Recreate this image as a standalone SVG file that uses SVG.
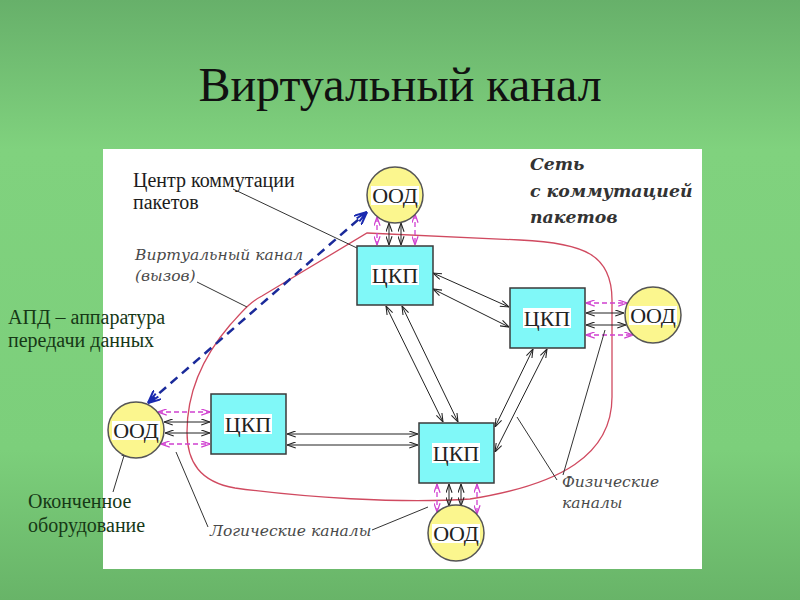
<svg xmlns="http://www.w3.org/2000/svg" width="800" height="600" viewBox="0 0 800 600">
<defs>
<linearGradient id="bg" x1="0" y1="0" x2="0" y2="1">
<stop offset="0" stop-color="#67b06a"/>
<stop offset="0.25" stop-color="#80d27e"/>
<stop offset="0.75" stop-color="#7ccf7b"/>
<stop offset="1" stop-color="#68b468"/>
</linearGradient>
<marker id="ak" viewBox="0 0 10 8" refX="10" refY="4" markerWidth="9" markerHeight="7" markerUnits="userSpaceOnUse" orient="auto-start-reverse">
<path d="M0,0.5 L10,4 L0,7.5" fill="none" stroke="#222" stroke-width="1.2"/>
</marker>
<marker id="am" viewBox="0 0 10 8" refX="10" refY="4" markerWidth="9" markerHeight="7" markerUnits="userSpaceOnUse" orient="auto-start-reverse">
<path d="M0,0.5 L10,4 L0,7.5" fill="none" stroke="#d040d0" stroke-width="1.4"/>
</marker>
<marker id="ab" viewBox="0 0 14 12" refX="13" refY="6" markerWidth="14" markerHeight="12" markerUnits="userSpaceOnUse" orient="auto-start-reverse">
<path d="M0,0 L13,6 M1,4 L13,6 M1,8 L13,6 M0,12 L13,6" fill="none" stroke="#1a2ab0" stroke-width="2"/>
</marker>
<marker id="ap" viewBox="0 0 10 8" refX="10" refY="4" markerWidth="8" markerHeight="6" markerUnits="userSpaceOnUse" orient="auto">
<path d="M0,0.5 L10,4 L0,7.5 Z" fill="#222"/>
</marker>
</defs>
<style>
.box{fill:#80f8f8;stroke:#3a3a3a;stroke-width:1.5}
.ood{fill:#fbf68e;stroke:#555;stroke-width:1.5}
.hl{fill:#ffffff}
.nt{font-family:"Liberation Serif","Times New Roman",serif;font-size:22px;fill:#222;text-anchor:middle}
.lk{stroke:#222;stroke-width:1;fill:none;marker-start:url(#ak);marker-end:url(#ak)}
.lm{stroke:#d040d0;stroke-width:1.3;fill:none;stroke-dasharray:5 3;marker-start:url(#am);marker-end:url(#am)}
.ptr{stroke:#333;stroke-width:1;fill:none}
.lab{font-family:"Liberation Serif","Times New Roman",serif;font-size:20px;fill:#1c1c1c}
.labg{font-family:"Liberation Serif","Times New Roman",serif;font-size:20px;fill:#163816}
.it{font-family:"DejaVu Serif",serif;font-style:italic;font-size:15.5px;fill:#4a4a4a}
.net{font-family:"DejaVu Serif",serif;font-style:italic;font-weight:bold;font-size:17.3px;fill:#333}
</style>
<rect x="0" y="0" width="800" height="600" fill="url(#bg)"/>
<rect x="103" y="149" width="599" height="420" fill="#ffffff"/>
<text x="400" y="101" text-anchor="middle" font-family="Liberation Serif, Times New Roman, serif" font-size="48" fill="#111">Виртуальный канал</text>

<g id="network-boundary">
<path d="M367,233 L520,240 C585,243 612,255 612,300 L612,397 C612,455 560,485 470,499 C400,504 300,497 235,488 C200,482 187,462 187,432 C187,395 200,360 230,325 C242,312 250,302 262,296 Z" fill="none" stroke="#d04a60" stroke-width="1.3"/>
</g>

<g id="connectors">
<line class="lk" x1="433" y1="273" x2="509" y2="307"/>
<line class="lk" x1="433" y1="289" x2="509" y2="327"/>
<line class="lk" x1="386" y1="306" x2="443" y2="422"/>
<line class="lk" x1="402" y1="306" x2="458" y2="422"/>
<line class="lk" x1="533" y1="349" x2="495" y2="427"/>
<line class="lk" x1="547" y1="349" x2="495" y2="452"/>
<line class="lk" x1="287" y1="434" x2="418" y2="434"/>
<line class="lk" x1="287" y1="445" x2="418" y2="445"/>

<line class="lk" x1="389" y1="223" x2="389" y2="245"/>
<line class="lk" x1="401" y1="223" x2="401" y2="245"/>
<line class="lm" x1="377" y1="217" x2="377" y2="245"/>
<line class="lm" x1="415" y1="214" x2="415" y2="245"/>

<line class="lk" x1="586" y1="313" x2="624" y2="313"/>
<line class="lk" x1="586" y1="325" x2="626" y2="325"/>
<line class="lm" x1="586" y1="303" x2="627" y2="303"/>
<line class="lm" x1="586" y1="335" x2="633" y2="335"/>

<line class="lk" x1="164" y1="422" x2="210" y2="422"/>
<line class="lk" x1="165" y1="433" x2="210" y2="433"/>
<line class="lm" x1="158" y1="412" x2="210" y2="412"/>
<line class="lm" x1="161" y1="444" x2="210" y2="444"/>

<line class="lk" x1="449" y1="484" x2="449" y2="506"/>
<line class="lk" x1="461" y1="484" x2="461" y2="506"/>
<line class="lm" x1="437" y1="484" x2="437" y2="512"/>
<line class="lm" x1="477" y1="484" x2="477" y2="514"/>

<line x1="148" y1="403" x2="367" y2="212" stroke="#1a2a9a" stroke-width="2.5" stroke-dasharray="9 6" marker-start="url(#ab)" marker-end="url(#ab)"/>

<line class="ptr" x1="233" y1="189" x2="378" y2="258" marker-end="url(#ap)"/>
<line class="ptr" x1="197" y1="282" x2="247" y2="307"/>
<line class="ptr" x1="113" y1="492" x2="126" y2="449" marker-end="url(#ap)"/>
<line class="ptr" x1="176" y1="452" x2="208" y2="527"/>
<line class="ptr" x1="372" y1="530" x2="428" y2="507"/>
<line class="ptr" x1="557" y1="480" x2="517" y2="417"/>
<line class="ptr" x1="563" y1="475" x2="605" y2="330"/>
</g>

<g id="ckp-top"><rect class="box" x="357" y="246" width="76" height="59"/><rect class="hl" x="371" y="265" width="48" height="20"/><text class="nt" x="395" y="283">ЦКП</text></g>
<g id="ckp-right"><rect class="box" x="510" y="288" width="75" height="60"/><rect class="hl" x="523" y="308" width="48" height="20"/><text class="nt" x="547" y="326">ЦКП</text></g>
<g id="ckp-left"><rect class="box" x="211" y="394" width="75" height="60"/><rect class="hl" x="224" y="414" width="48" height="20"/><text class="nt" x="248" y="432">ЦКП</text></g>
<g id="ckp-bottom"><rect class="box" x="419" y="423" width="75" height="60"/><rect class="hl" x="432" y="443" width="48" height="20"/><text class="nt" x="456" y="461">ЦКП</text></g>

<g id="ood-top"><circle class="ood" cx="395" cy="195" r="28"/><rect class="hl" x="371" y="186" width="48" height="19"/><text class="nt" x="395" y="203">ООД</text></g>
<g id="ood-right"><circle class="ood" cx="653" cy="315" r="28"/><rect class="hl" x="629" y="306" width="48" height="19"/><text class="nt" x="653" y="323">ООД</text></g>
<g id="ood-left"><circle class="ood" cx="136" cy="430" r="28"/><rect class="hl" x="112" y="421" width="48" height="19"/><text class="nt" x="136" y="438">ООД</text></g>
<g id="ood-bottom"><circle class="ood" cx="456" cy="533" r="28"/><rect class="hl" x="432" y="524" width="48" height="19"/><text class="nt" x="456" y="541">ООД</text></g>

<g id="labels">
<text class="lab" x="133" y="187">Центр коммутации</text>
<text class="lab" x="133" y="209">пакетов</text>
<text class="it" x="135" y="260">Виртуальный канал</text>
<text class="it" x="135" y="281">(вызов)</text>
<text class="net" x="530" y="170">Сеть</text>
<text class="net" x="530" y="197">с коммутацией</text>
<text class="net" x="530" y="223">пакетов</text>
<text class="labg" x="8" y="324">АПД – аппаратура</text>
<text class="labg" x="8" y="347">передачи данных</text>
<text class="labg" x="28" y="508">Оконченное</text>
<text class="labg" x="28" y="532">оборудование</text>
<text class="it" x="210" y="536">Логические каналы</text>
<text class="it" x="562" y="487">Физические</text>
<text class="it" x="562" y="508">каналы</text>
</g>
</svg>
